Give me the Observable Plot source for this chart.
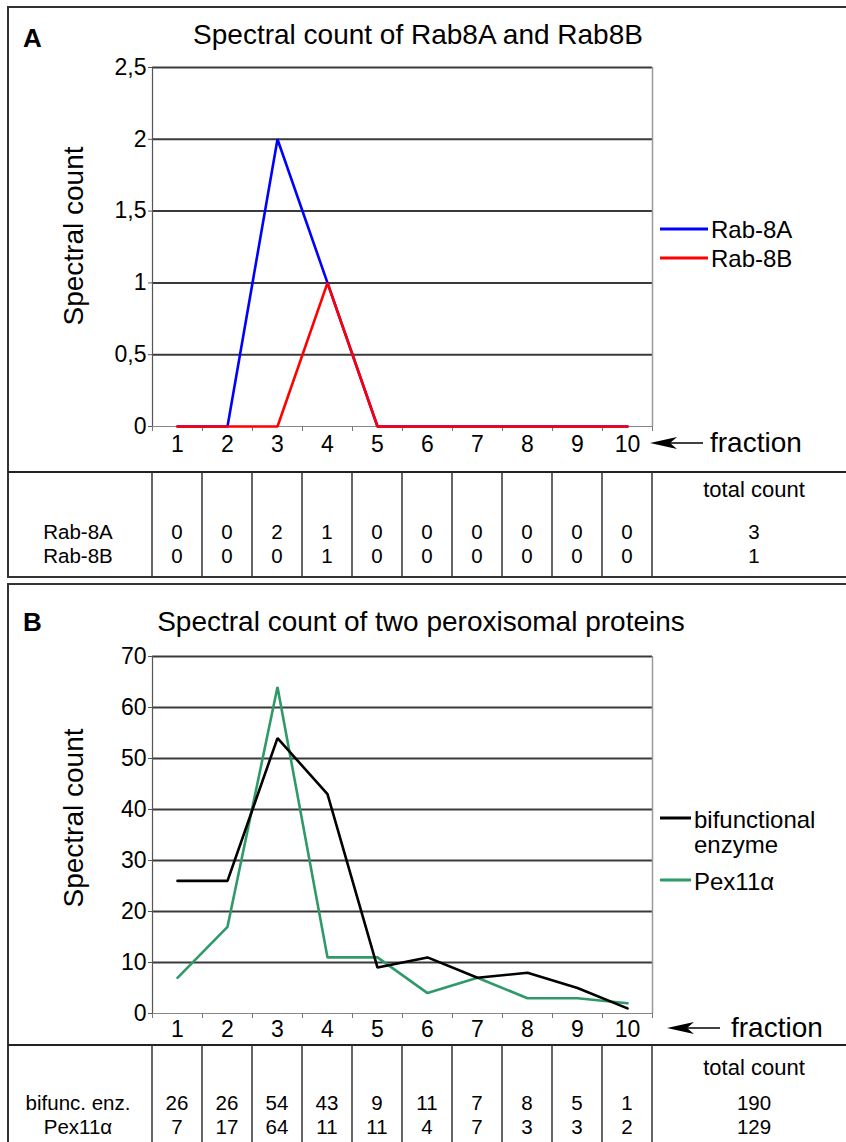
<!DOCTYPE html>
<html><head><meta charset="utf-8">
<script src="https://cdn.jsdelivr.net/npm/d3@7"></script>
<script src="https://cdn.jsdelivr.net/npm/@observablehq/plot@0.6"></script>
<style>
body{margin:0;background:#fff;}
#page{position:relative;width:846px;height:1142px;overflow:hidden;background:#fff;}
#page > svg{position:absolute;left:0;}
</style></head><body><div id="page"></div>
<script>
// ---------- data ----------
const fractions = [1, 2, 3, 4, 5, 6, 7, 8, 9, 10];
const rab8A = [0, 0, 2, 1, 0, 0, 0, 0, 0, 0];
const rab8B = [0, 0, 0, 1, 0, 0, 0, 0, 0, 0];
const seriesNamesA = ["Rab-8A", "Rab-8B"];
const totalsA = [3, 1];
const yTicksA = [0, 0.5, 1, 1.5, 2, 2.5];
const yTickLabelsA = ["0", "0,5", "1", "1,5", "2", "2,5"];

const bifunc = [26, 26, 54, 43, 9, 11, 7, 8, 5, 1];
const pex11a = [7, 17, 64, 11, 11, 4, 7, 3, 3, 2];
const seriesNamesB = ["bifunctional enzyme", "Pex11\u03b1"];
const tableNamesB = ["bifunc. enz.", "Pex11\u03b1"];
const totalsB = [190, 129];
const yTicksB = [0, 10, 20, 30, 40, 50, 60, 70];

const titleA = "Spectral count of Rab8A and Rab8B";
const titleB = "Spectral count of two peroxisomal proteins";
const yLabel = "Spectral count";
const xLabel = "fraction";
const totalHeader = "total count";

// ---------- helpers ----------
const FONT = "Arial, 'Liberation Sans', Helvetica, sans-serif";
const xBounds = [...fractions.map(f => f - 0.5), fractions[fractions.length - 1] + 0.5];
const page = d3.select("#page");

function makeChart({height, mt, mb, yDomain, yTicks, yFmt, rows, names, colors, tickPad}) {
  return Plot.plot({
    width: 846, height,
    marginTop: mt, marginBottom: mb, marginLeft: 152, marginRight: 194,
    style: {fontFamily: FONT, background: "transparent", color: "#000"},
    x: {type: "linear", domain: [xBounds[0], xBounds[xBounds.length - 1]], label: null},
    y: {domain: yDomain, label: null},
    color: {domain: names, range: colors},
    marks: [
      Plot.gridY(yTicks.filter(v => v > 0), {stroke: "#3a3a3a", strokeOpacity: 1, strokeWidth: 2}),
      Plot.ruleX([xBounds[xBounds.length - 1]], {stroke: "#999", strokeWidth: 1.5}),
      Plot.ruleX([xBounds[0]], {stroke: "#555", strokeWidth: 1.2}),
      Plot.ruleY([0], {stroke: "#888", strokeWidth: 1.2}),
      Plot.axisY(yTicks, {tickSize: 4, tickPadding: 2, fontSize: 23, stroke: "#555", tickFormat: yFmt, label: null}),
      Plot.axisX(xBounds, {tickSize: 5, tickPadding: 0, stroke: "#777", tickFormat: () => "", label: null}),
      Plot.axisX(fractions, {tickSize: 0, tickPadding: tickPad, fontSize: 23, tickFormat: d => String(d), label: null}),
      Plot.line(rows, {x: "fraction", y: "count", z: "series", stroke: "series", strokeWidth: 2.6, strokeLinejoin: "miter"})
    ]
  });
}

// ---------- Panel A chart ----------
const rowsA = [
  ...fractions.map((f, i) => ({fraction: f, series: seriesNamesA[0], count: rab8A[i]})),
  ...fractions.map((f, i) => ({fraction: f, series: seriesNamesA[1], count: rab8B[i]}))
];
const chartA = makeChart({
  height: 472, mt: 67, mb: 46, yDomain: [0, 2.5], yTicks: yTicksA,
  yFmt: d => yTickLabelsA[yTicksA.indexOf(d)], rows: rowsA, names: seriesNamesA,
  colors: ["#0000ff", "#ff0000"], tickPad: 9
});
chartA.style.top = "0px";
page.node().appendChild(chartA);

// ---------- Panel B chart ----------
const rowsB = [
  ...fractions.map((f, i) => ({fraction: f, series: seriesNamesB[1], count: pex11a[i]})),
  ...fractions.map((f, i) => ({fraction: f, series: seriesNamesB[0], count: bifunc[i]}))
];
const chartB = makeChart({
  height: 461, mt: 72, mb: 32, yDomain: [0, 70], yTicks: yTicksB,
  yFmt: d => String(d), rows: rowsB, names: seriesNamesB,
  colors: ["#000000", "#2f9a68"], tickPad: 7
});
chartB.style.top = "584px";
page.node().appendChild(chartB);

// ---------- overlay: frames, titles, legends, tables ----------
const svg = page.append("svg")
  .attr("width", 846).attr("height", 1142)
  .style("top", "0px").style("font-family", FONT).style("pointer-events", "none");

function arrow(tipX, y) {
  svg.append("line").attr("x1", tipX + 18).attr("x2", tipX + 53).attr("y1", y).attr("y2", y)
    .attr("stroke", "#000").attr("stroke-width", 1.6);
  svg.append("path")
    .attr("d", `M${tipX},${y} L${tipX + 27},${y - 6} L${tipX + 20},${y} L${tipX + 27},${y + 6} Z`)
    .attr("fill", "#000");
}
function text(x, y, s, size, opts = {}) {
  const t = svg.append("text").attr("x", x).attr("y", y).attr("font-size", size)
    .attr("text-anchor", opts.anchor || "start").attr("fill", "#000").text(s);
  if (opts.bold) t.attr("font-weight", "bold");
  if (opts.transform) t.attr("transform", opts.transform).attr("x", 0).attr("y", 0);
  return t;
}

const TABLE_FS = 20.5;

function panel({chart, top, tableTop, tableBottom, frameBottom, letter, letterY, title, titleX, titleY,
                yLabelY, legend, arrowY, fractionY, tableNames, tableVals, totals, headerY, rowYs}) {
  const x = chart.scale("x");
  // frame
  svg.append("path").attr("d", `M860,${top} H8 V${frameBottom} H860`)
    .attr("fill", "none").attr("stroke", "#333").attr("stroke-width", 2);
  svg.append("line").attr("x1", 8).attr("x2", 860).attr("y1", tableTop).attr("y2", tableTop)
    .attr("stroke", "#222").attr("stroke-width", 2.2);
  // table grid
  xBounds.forEach(b => {
    svg.append("line").attr("x1", x.apply(b)).attr("x2", x.apply(b))
      .attr("y1", tableTop).attr("y2", tableBottom).attr("stroke", "#333").attr("stroke-width", 1.5);
  });
  text(23, letterY, letter, 26, {bold: true});
  text(titleX, titleY, title, 28, {anchor: "middle"});
  text(0, 0, yLabel, 28, {anchor: "middle", transform: `translate(83,${yLabelY}) rotate(-90)`});
  // legend
  legend.forEach(l => {
    svg.append("line").attr("x1", 660).attr("x2", l.x2).attr("y1", l.ly).attr("y2", l.ly)
      .attr("stroke", l.color).attr("stroke-width", 3);
    l.lines.forEach((s, k) => text(l.x2 + 3, l.baselines[k], s, 24));
  });
  // fraction arrow
  arrow(arrowY.tip, arrowY.y);
  text(arrowY.textX, fractionY, xLabel, 28);
  // table text
  text(754, headerY, totalHeader, 22, {anchor: "middle"});
  tableNames.forEach((name, r) => {
    text(78, rowYs[r], name, TABLE_FS, {anchor: "middle"});
    tableVals[r].forEach((v, i) => text(x.apply(fractions[i]), rowYs[r], String(v), TABLE_FS, {anchor: "middle"}));
    text(754, rowYs[r], String(totals[r]), TABLE_FS, {anchor: "middle"});
  });
}

panel({
  chart: chartA, top: 7, tableTop: 472, tableBottom: 577, frameBottom: 577,
  letter: "A", letterY: 47, title: titleA, titleX: 418, titleY: 44, yLabelY: 236,
  legend: [
    {color: "#0000ff", x2: 708, ly: 229, lines: [seriesNamesA[0]], baselines: [238]},
    {color: "#ff0000", x2: 708, ly: 258, lines: [seriesNamesA[1]], baselines: [267]}
  ],
  arrowY: {tip: 650, y: 443, textX: 710}, fractionY: 452,
  tableNames: seriesNamesA, tableVals: [rab8A, rab8B], totals: totalsA,
  headerY: 497, rowYs: [539, 563]
});

panel({
  chart: chartB, top: 584, tableTop: 1045, tableBottom: 1150, frameBottom: 1150,
  letter: "B", letterY: 631, title: titleB, titleX: 421, titleY: 631, yLabelY: 818,
  legend: [
    {color: "#000000", x2: 691, ly: 818, lines: ["bifunctional", "enzyme"], baselines: [828, 853]},
    {color: "#2f9a68", x2: 691, ly: 880, lines: [seriesNamesB[1]], baselines: [890]}
  ],
  arrowY: {tip: 667, y: 1028, textX: 731}, fractionY: 1037,
  tableNames: tableNamesB, tableVals: [bifunc, pex11a], totals: totalsB,
  headerY: 1075, rowYs: [1110, 1134]
});
</script>
</body></html>
